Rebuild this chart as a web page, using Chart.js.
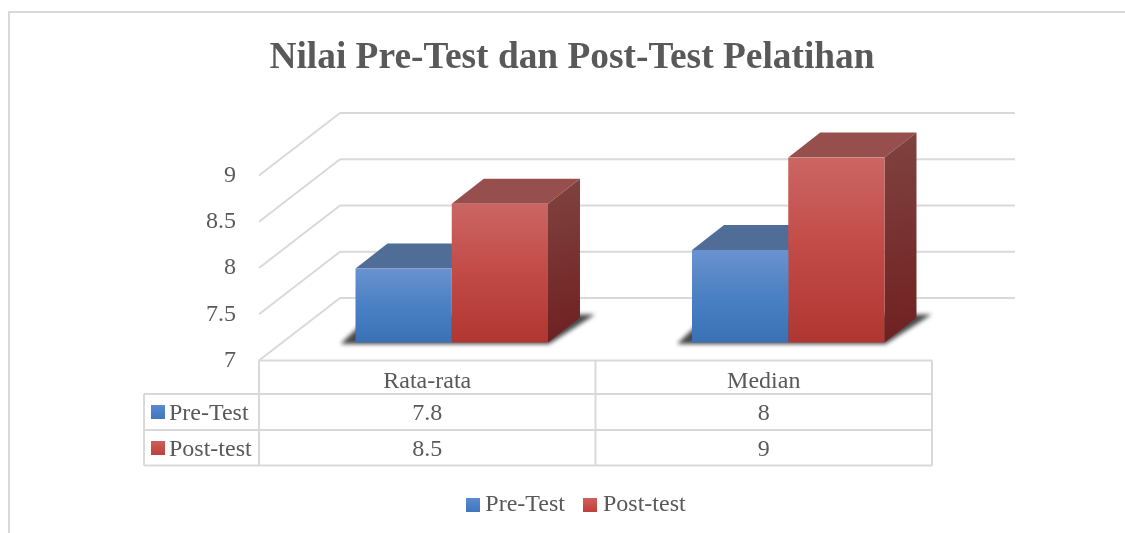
<!DOCTYPE html>
<html>
<head>
<meta charset="utf-8">
<title>Nilai Pre-Test dan Post-Test Pelatihan</title>
<script src="https://cdn.jsdelivr.net/npm/chart.js@4/dist/chart.umd.min.js"></script>
<style>
    html, body { margin: 0; padding: 0; background: #fff; }
    canvas { display: block; }
</style>
</head>
<body>
<canvas id="chart" width="1125" height="533"></canvas>
<script>
// Data
const categories = ['Rata-rata', 'Median'];
const preTest = [7.8, 8];
const postTest = [8.5, 9];
const seriesNames = ['Pre-Test', 'Post-test'];
const titleText = 'Nilai Pre-Test dan Post-Test Pelatihan';

const FONT = '"Liberation Serif", "Times New Roman", serif';
const TEXT = '#595959';
const LINE = '#d9d9d9';
const FONT_SIZE = 24;

// Fake 3D: how far the walls and the bars are pushed back
const WALL_DX = 81, WALL_DY = -62.5;
const BAR_DX = 24.5, BAR_DY = -18;
const DEPTH_DX = 32, DEPTH_DY = -25;

const looks = [
    { front: ['#6a92cf', '#4a80c4', '#3a70b4'], top: '#506d97', side: ['#54749f', '#2f5280'], swatch: ['#5b8ad0', '#3f77bd'] },
    { front: ['#cb6663', '#c24a46', '#b03632'], top: '#964f4c', side: ['#804340', '#6f2020'], swatch: ['#d0605c', '#c03f3b'] }
];

function frontGradient(c, look) {
    const { chart, raw } = c;
    const y = chart.scales.y;
    if (!y || raw === undefined) return look.front[1];
    const y1 = y.getPixelForValue(raw), y2 = y.getPixelForValue(7);
    // scales have no pixels yet on the first pass (legend fit)
    if (!Number.isFinite(y1) || !Number.isFinite(y2)) return look.front[1];
    const g = chart.ctx.createLinearGradient(0, y1, 0, y2);
    g.addColorStop(0, look.front[0]);
    g.addColorStop(0.5, look.front[1]);
    g.addColorStop(1, look.front[2]);
    return g;
}

function makeSwatch(look) {
    const cv = document.createElement('canvas');
    cv.width = 14;
    cv.height = 14;
    const c = cv.getContext('2d');
    const g = c.createLinearGradient(0, 0, 0, 14);
    g.addColorStop(0, look.swatch[0]);
    g.addColorStop(1, look.swatch[1]);
    c.fillStyle = g;
    c.fillRect(0, 0, 14, 14);
    return cv;
}
const swatches = looks.map(makeSwatch);

function poly(ctx, pts, fill) {
    ctx.beginPath();
    pts.forEach((p, i) => i ? ctx.lineTo(p[0], p[1]) : ctx.moveTo(p[0], p[1]));
    ctx.closePath();
    ctx.fillStyle = fill;
    ctx.fill();
}

function hLine(ctx, x1, y1, x2, y2) {
    ctx.beginPath();
    ctx.moveTo(x1, y1);
    ctx.lineTo(x2, y2);
    ctx.stroke();
}

const scenePlugin = {
    id: 'scene',
    afterLayout(chart) {
        // title and legend sit right of the middle of the space the layout leaves them
        const t = chart.titleBlock;
        t.left += 106; t.right += 106;
        const l = chart.legend;
        l.left += 113; l.right += 113;
        l.top -= 6; l.bottom -= 6;
    },
    beforeDatasetsDraw(chart) {
        const ctx = chart.ctx;
        const { left, right, bottom } = chart.chartArea;
        const y = chart.scales.y;

        // outer frame of the chart object
        ctx.save();
        ctx.strokeStyle = LINE;
        ctx.lineWidth = 2;
        ctx.beginPath();
        ctx.moveTo(9, 533);
        ctx.lineTo(9, 12);
        ctx.lineTo(1125, 12);
        ctx.stroke();

        // side wall and back wall grid
        y.ticks.forEach(tick => {
            const py = y.getPixelForValue(tick.value);
            hLine(ctx, left, py, left + WALL_DX, py + WALL_DY);
            hLine(ctx, left + WALL_DX, py + WALL_DY, right + WALL_DX + 2, py + WALL_DY);
        });

        // shadow under each bar group
        const m0 = chart.getDatasetMeta(0), m1 = chart.getDatasetMeta(1);
        ctx.save();
        ctx.filter = 'blur(2px)';
        categories.forEach((_, i) => {
            const a = m0.data[i], b = m1.data[i];
            const x1 = a.x - a.width / 2 + BAR_DX, x2 = b.x + b.width / 2 + BAR_DX;
            const by = bottom + BAR_DY;
            poly(ctx, [[x1 - 15, by + 1.5], [x2 + 1, by + 1.5], [x2 + DEPTH_DX + 15, by - 28], [x1 + 16, by - 28]], 'rgba(40,40,40,0.85)');
        });
        ctx.restore();
        ctx.restore();

        // top and side faces, back to front; the library then paints the front faces
        const y0 = y.getPixelForValue(7);
        ctx.save();
        ctx.translate(BAR_DX, BAR_DY);
        [m0, m1].forEach((meta, s) => {
            const look = looks[s];
            meta.data.forEach(bar => {
                const xl = bar.x - bar.width / 2, xr = bar.x + bar.width / 2, yt = bar.y;
                poly(ctx, [[xl, yt], [xl + DEPTH_DX, yt + DEPTH_DY], [xr + DEPTH_DX, yt + DEPTH_DY], [xr, yt]], look.top);
                const g = ctx.createLinearGradient(xr, yt + DEPTH_DY, xr + DEPTH_DX, y0);
                g.addColorStop(0, look.side[0]);
                g.addColorStop(1, look.side[1]);
                poly(ctx, [[xr, yt], [xr + DEPTH_DX, yt + DEPTH_DY], [xr + DEPTH_DX, y0 + DEPTH_DY], [xr, y0]], g);
            });
        });
    },
    afterDatasetsDraw(chart) {
        chart.ctx.restore();
    },
    afterDraw(chart) {
        // data table under the plot
        const ctx = chart.ctx;
        const { left, right, bottom } = chart.chartArea;
        const x = chart.scales.x;
        const mid = (left + right) / 2;
        const keyLeft = 144;
        const rows = [394, 430, 465.5];
        const series = [preTest, postTest];

        ctx.save();
        ctx.strokeStyle = LINE;
        ctx.lineWidth = 2;
        hLine(ctx, left, bottom, right, bottom);
        rows.forEach(r => hLine(ctx, keyLeft, r, right, r));
        hLine(ctx, keyLeft, rows[0], keyLeft, rows[2]);
        hLine(ctx, left, bottom, left, rows[2]);
        hLine(ctx, mid, bottom, mid, rows[2]);
        hLine(ctx, right, bottom, right, rows[2]);

        ctx.font = FONT_SIZE + 'px ' + FONT;
        ctx.fillStyle = TEXT;
        ctx.textBaseline = 'middle';
        series.forEach((vals, s) => {
            const cy = (rows[s] + rows[s + 1]) / 2;
            ctx.drawImage(swatches[s], 151, cy - 7);
            ctx.textAlign = 'left';
            ctx.fillStyle = TEXT;
            ctx.fillText(seriesNames[s], 169, cy + 1.5);
            ctx.textAlign = 'center';
            vals.forEach((v, i) => ctx.fillText(String(v), x.getPixelForTick(i), cy + 1.5));
        });
        ctx.restore();
    }
};

new Chart(document.getElementById('chart'), {
    type: 'bar',
    data: {
        labels: categories,
        datasets: [
            { label: seriesNames[0], data: preTest, backgroundColor: c => frontGradient(c, looks[0]) },
            { label: seriesNames[1], data: postTest, backgroundColor: c => frontGradient(c, looks[1]) }
        ]
    },
    options: {
        responsive: false,
        animation: false,
        layout: { padding: { left: 0, right: 193, top: 0, bottom: 0 } },
        datasets: { bar: { categoryPercentage: 0.572, barPercentage: 1 } },
        scales: {
            x: {
                grid: { display: false },
                border: { display: false },
                ticks: { color: TEXT, font: { family: FONT, size: FONT_SIZE }, padding: -1, maxRotation: 0 },
                afterFit: s => { s.height = 113.5; }
            },
            y: {
                min: 7,
                max: 9,
                grid: { display: false },
                border: { display: false },
                ticks: { stepSize: 0.5, color: TEXT, font: { family: FONT, size: FONT_SIZE }, padding: 15, callback: v => String(v) },
                afterFit: s => { s.width = 259; }
            }
        },
        plugins: {
            tooltip: { enabled: false },
            title: {
                display: true,
                text: titleText,
                color: TEXT,
                font: { family: FONT, size: 37.4, weight: 'bold' },
                padding: { top: 35.5, bottom: 95.1 }
            },
            legend: {
                position: 'bottom',
                labels: {
                    color: TEXT,
                    font: { family: FONT, size: FONT_SIZE },
                    usePointStyle: true,
                    pointStyleWidth: 1,
                    padding: 25,
                    generateLabels: chart => Chart.defaults.plugins.legend.labels.generateLabels(chart)
                        .map((item, i) => ({ ...item, pointStyle: swatches[i] }))
                }
            }
        }
    },
    plugins: [scenePlugin]
});
</script>
</body>
</html>
